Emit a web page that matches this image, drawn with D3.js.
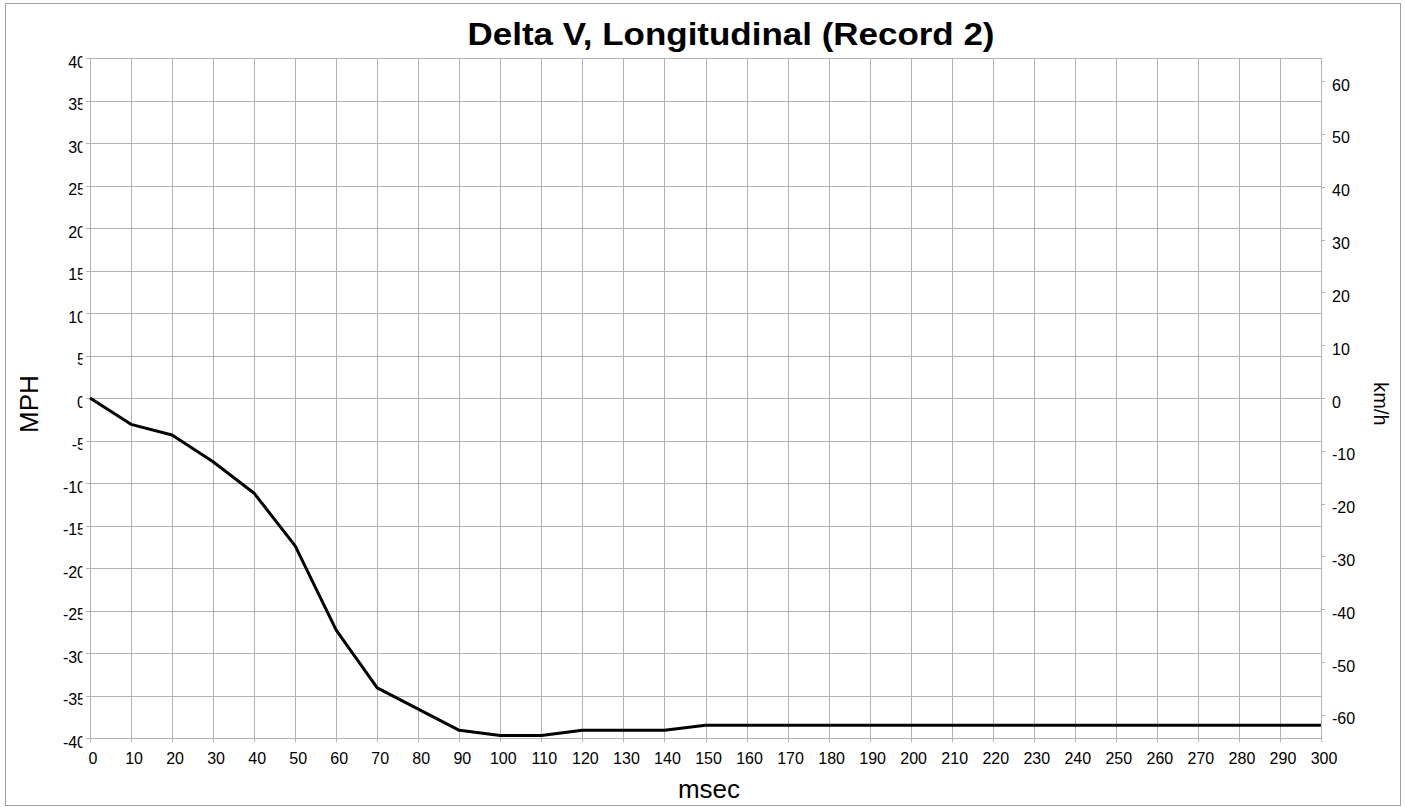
<!DOCTYPE html>
<html>
<head>
<meta charset="utf-8">
<script src="https://cdn.jsdelivr.net/npm/d3@7"></script>
<style>
  html, body { margin: 0; padding: 0; background: #fff; }
  svg text { font-family: "Liberation Sans", Arial, sans-serif; fill: #000; }
</style>
</head>
<body>
<svg id="chart" width="1405" height="807"></svg>
<script>
// ---- data ----
const msec = [0,10,20,30,40,50,60,70,80,90,100,110,120,130,140,150,160,170,180,190,200,210,220,230,240,250,260,270,280,290,300];
const mph  = [0,-3.1,-4.35,-7.5,-11.2,-17.4,-27.3,-34.1,-36.6,-39.1,-39.7,-39.7,-39.1,-39.1,-39.1,-38.5,-38.5,-38.5,-38.5,-38.5,-38.5,-38.5,-38.5,-38.5,-38.5,-38.5,-38.5,-38.5,-38.5,-38.5,-38.5];
const xTicks = d3.range(0, 301, 10);
const mphTicks = d3.range(-40, 41, 5);
const kmhTicks = [-60,-50,-40,-30,-20,-10,0,10,20,30,40,50,60];
const titleText = "Delta V, Longitudinal (Record 2)";
const KMH_PER_MPH = 1.609344;

(function () {
// ---- layout ----
const svg = d3.select("#chart");
const pLeft = 90, pRight = 1321, pTop = 58, pBottom = 738;
const grid = "#b3b3b3";

const x = d3.scaleLinear().domain([0, 300]).range([pLeft, pRight]);
const y = d3.scaleLinear().domain([-40, 40]).range([pBottom, pTop]);
const y2 = d3.scaleLinear().domain([-40 * KMH_PER_MPH, 40 * KMH_PER_MPH]).range([pBottom, pTop]);

// outer border
svg.append("rect").attr("x", 5.5).attr("y", 3.5).attr("width", 1395).attr("height", 802)
  .attr("fill", "none").attr("stroke", "#a0a0a0").attr("stroke-width", 1);

// clip for left labels
svg.append("defs").append("clipPath").attr("id", "lclip")
  .append("rect").attr("x", 0).attr("y", 0).attr("width", 82.5).attr("height", 807);

// horizontal grid + left ticks
svg.append("g").selectAll("line").data(mphTicks).join("line")
  .attr("x1", pLeft - 4).attr("x2", pRight)
  .attr("y1", d => Math.round(y(d)) + 0.5).attr("y2", d => Math.round(y(d)) + 0.5)
  .attr("stroke", grid).attr("stroke-width", 1);

// vertical grid + bottom ticks
svg.append("g").selectAll("line").data(xTicks).join("line")
  .attr("x1", d => Math.round(x(d)) + 0.5).attr("x2", d => Math.round(x(d)) + 0.5)
  .attr("y1", pTop).attr("y2", pBottom + 4)
  .attr("stroke", grid).attr("stroke-width", 1);

// plot frame
svg.append("rect").attr("x", pLeft + 0.5).attr("y", pTop + 0.5)
  .attr("width", pRight - pLeft).attr("height", pBottom - pTop)
  .attr("fill", "none").attr("stroke", grid).attr("stroke-width", 1);

// right axis ticks
svg.append("g").selectAll("line").data(kmhTicks).join("line")
  .attr("x1", pRight).attr("x2", pRight + 4)
  .attr("y1", d => Math.round(y2(d)) + 0.5).attr("y2", d => Math.round(y2(d)) + 0.5)
  .attr("stroke", grid).attr("stroke-width", 1);

// left labels (clipped)
svg.append("g").attr("clip-path", "url(#lclip)").selectAll("text").data(mphTicks).join("text")
  .attr("x", 86).attr("y", d => y(d) + 9.5)
  .attr("text-anchor", "end").style("font-size", "16px")
  .text(d => d);

// right labels
svg.append("g").selectAll("text").data(kmhTicks).join("text")
  .attr("x", 1332).attr("y", d => y2(d) + 9.5)
  .attr("text-anchor", "start").style("font-size", "16px")
  .text(d => d);

// bottom labels
svg.append("g").selectAll("text").data(xTicks).join("text")
  .attr("x", d => x(d) + 3).attr("y", 764)
  .attr("text-anchor", "middle").style("font-size", "16px")
  .text(d => d);

// data line
const line = d3.line().x((d, i) => x(msec[i])).y(d => y(d));
svg.append("path").datum(mph).attr("d", line)
  .attr("fill", "none").attr("stroke", "#000").attr("stroke-width", 3)
  .attr("stroke-linejoin", "round");

// titles
svg.append("text").attr("x", 731).attr("y", 45).attr("text-anchor", "middle")
  .style("font-size", "32px").style("font-weight", "bold")
  .attr("textLength", 527).attr("lengthAdjust", "spacingAndGlyphs")
  .text(titleText);

svg.append("text").attr("transform", "translate(38,404) rotate(-90)")
  .attr("text-anchor", "middle").style("font-size", "26px").text("MPH");

svg.append("text").attr("transform", "translate(1374,404) rotate(90)")
  .attr("text-anchor", "middle").style("font-size", "20px").text("km/h");

svg.append("text").attr("x", 709).attr("y", 798).attr("text-anchor", "middle")
  .style("font-size", "26px").text("msec");
})();
</script>
</body>
</html>
